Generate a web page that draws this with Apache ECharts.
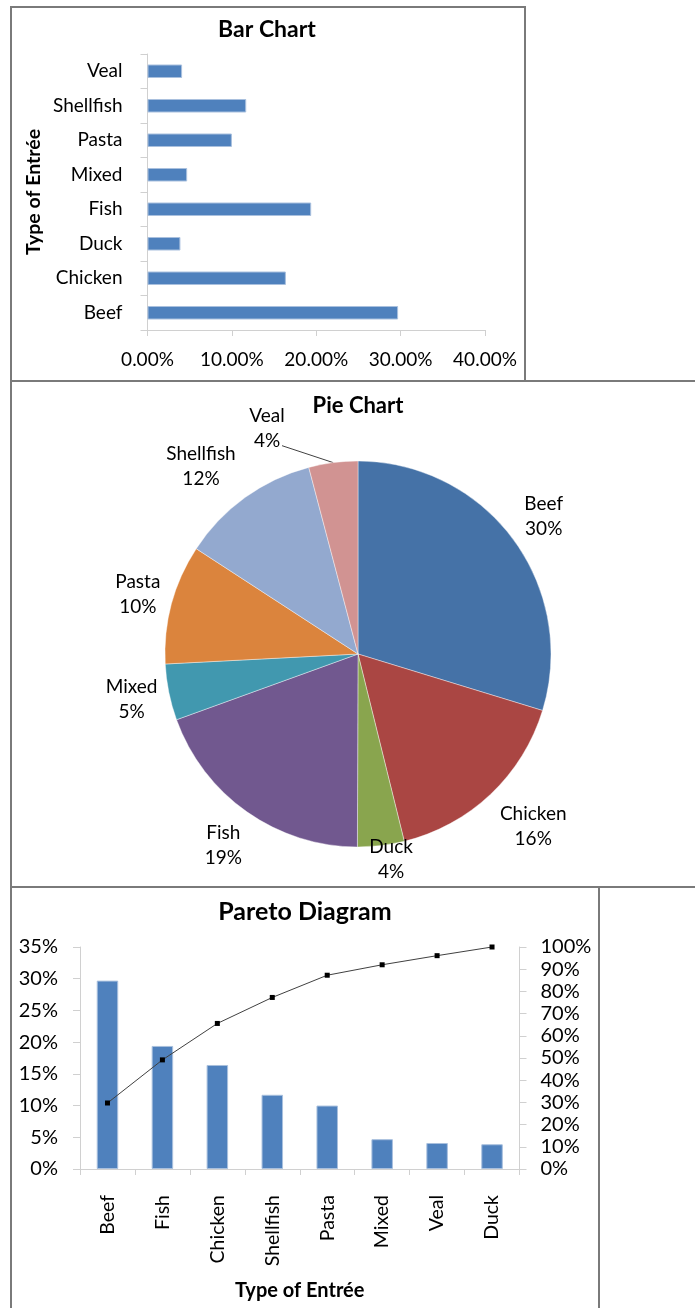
<!DOCTYPE html>
<html><head><meta charset="utf-8">
<script src="https://cdn.jsdelivr.net/npm/echarts@6/dist/echarts.min.js"></script>
<style>html,body{margin:0;padding:0;background:#fff}#c{width:695px;height:1308px}</style>
</head><body><div id="c"></div>
<script>
// ---- data ----
const categories = ['Beef','Chicken','Duck','Fish','Mixed','Pasta','Shellfish','Veal'];
const shares = [0.297,0.164,0.039,0.194,0.047,0.100,0.117,0.041];
const barTicks = [0,0.1,0.2,0.3,0.4];
const paretoLeftTicks = [0,0.05,0.10,0.15,0.20,0.25,0.30,0.35];
const paretoRightTicks = [0,0.1,0.2,0.3,0.4,0.5,0.6,0.7,0.8,0.9,1.0];
const pieColors = ['#4572A7','#AA4643','#89A54E','#71588F','#4198AF','#DB843D','#93A9CF','#D19392'];

// ---- layout config (not data) ----
const FONT = 'Lato, "Open Sans", sans-serif';
const PIE_CX = 358, PIE_CY = 654, PIE_R = 193;
const labelRadius = [231, 246, 208, 234, 231, 228, 245, 243];
const labelAngleShift = [0, -2, -2.3, 0, 0, 0, -4, -14.6];

const total = shares.reduce((a,b)=>a+b,0);
const order = categories.map((c,i)=>i).sort((a,b)=>shares[b]-shares[a]);
const paretoCats = order.map(i=>categories[i]);
const paretoVals = order.map(i=>shares[i]);
let run = 0;
const paretoCum = paretoVals.map(v=>{run+=v;return run/total;});

const chart = echarts.init(document.getElementById('c'), null, {renderer:'canvas'});
const axisGray = '#d0d0d0';
const barBlue = '#4F81BD';

chart.setOption({
  animation:false,
  graphic:[
    {type:'rect',shape:{x:11,y:7,width:514,height:374},style:{fill:'none',stroke:'#7a7a7a',lineWidth:2},z:100},
    {type:'rect',shape:{x:11,y:381,width:700,height:506},style:{fill:'none',stroke:'#7a7a7a',lineWidth:2},z:100},
    {type:'rect',shape:{x:11,y:887,width:588,height:440},style:{fill:'none',stroke:'#7a7a7a',lineWidth:2},z:100},
    {type:'text',x:267,y:30,style:{text:'Bar Chart',font:'bold 23px '+FONT,fill:'#000',align:'center',verticalAlign:'middle'}},
    {type:'text',x:358,y:406,style:{text:'Pie Chart',font:'bold 22px '+FONT,fill:'#000',align:'center',verticalAlign:'middle'}},
    {type:'text',x:305,y:912,style:{text:'Pareto Diagram',font:'bold 25px '+FONT,fill:'#000',align:'center',verticalAlign:'middle'}}
  ],
  grid:[
    {left:147.5, top:54, width:337.5, height:276},
    {left:80, top:947, width:439.5, height:222}
  ],
  xAxis:[
    {gridIndex:0,type:'value',min:0,max:0.4,interval:0.1,
     axisLine:{show:true,lineStyle:{color:axisGray}},
     axisTick:{show:true,length:6,lineStyle:{color:axisGray}},
     splitLine:{show:false},
     axisLabel:{margin:20,fontSize:19,fontFamily:FONT,color:'#000',formatter:v=>(v*100).toFixed(2)+'%'}},
    {gridIndex:1,type:'category',data:paretoCats,
     axisLine:{show:true,lineStyle:{color:axisGray}},
     axisTick:{show:true,length:6,alignWithLabel:false,lineStyle:{color:axisGray}},
     axisLabel:{rotate:90,margin:26,fontSize:19.5,fontFamily:FONT,color:'#000',interval:0},
     name:'Type of Entrée',nameLocation:'middle',nameGap:112,
     nameTextStyle:{fontSize:20,fontWeight:'bold',fontFamily:FONT,color:'#000'}}
  ],
  yAxis:[
    {gridIndex:0,type:'category',data:categories,
     axisLine:{show:true,lineStyle:{color:axisGray}},
     axisTick:{show:true,length:7,lineStyle:{color:axisGray}},
     axisLabel:{margin:25,fontSize:19,fontFamily:FONT,color:'#000'},
     name:'Type of Entrée',nameLocation:'middle',nameRotate:90,nameGap:104,
     nameTextStyle:{fontSize:19.5,fontWeight:'bold',fontFamily:FONT,color:'#000'}},
    {gridIndex:1,type:'value',min:0,max:0.35,interval:0.05,
     axisLine:{show:true,lineStyle:{color:axisGray}},
     axisTick:{show:true,length:7,lineStyle:{color:axisGray}},
     splitLine:{show:false},
     axisLabel:{margin:22,fontSize:20,fontFamily:FONT,color:'#000',formatter:v=>Math.round(v*100)+'%'}},
    {gridIndex:1,type:'value',min:0,max:1,interval:0.1,position:'right',
     axisLine:{show:true,lineStyle:{color:axisGray}},
     axisTick:{show:true,length:7,lineStyle:{color:axisGray}},
     splitLine:{show:false},
     axisLabel:{margin:21,fontSize:20,fontFamily:FONT,color:'#000',formatter:v=>Math.round(v*100)+'%'}}
  ],
  series:[
    {type:'bar',xAxisIndex:0,yAxisIndex:0,data:shares,barWidth:13.5,
     itemStyle:{color:barBlue,borderColor:'#a9c0de',borderWidth:1}},
    {type:'pie',center:[PIE_CX,PIE_CY],radius:PIE_R,startAngle:90,clockwise:true,
     avoidLabelOverlap:false,
     data:categories.map((c,i)=>({name:c,value:shares[i],itemStyle:{color:pieColors[i]},
        labelLine:{show:i===7,lineStyle:{color:'#404040',width:1}}})),
     itemStyle:{borderColor:'rgba(255,255,255,0.4)',borderWidth:1},
     label:{show:true,position:'outside',fontSize:19,fontFamily:FONT,color:'#000',lineHeight:25,align:'center',
        formatter:p=>p.name+'\n'+Math.round(p.percent)+'%'},
     labelLine:{show:false},
     labelLayout:function(p){
       const i=p.dataIndex;
       let before=0; for(let k=0;k<i;k++) before+=shares[k];
       const midFrac=(before+shares[i]/2)/total;
       const a=(midFrac*360+labelAngleShift[i])*Math.PI/180;
       const x=PIE_CX+labelRadius[i]*Math.sin(a);
       const y=PIE_CY-labelRadius[i]*Math.cos(a);
       const res={x:x,y:y,align:'center',verticalAlign:'middle'};
       if(i===7){
         const m=midFrac*2*Math.PI;
         const ex=PIE_CX+PIE_R*Math.sin(m), ey=PIE_CY-PIE_R*Math.cos(m);
         res.labelLinePoints=[[x+15,y+17],[x+15,y+17],[ex,ey]];
       }
       return res;
     }},
    {type:'bar',xAxisIndex:1,yAxisIndex:1,data:paretoVals,barWidth:21.5,
     itemStyle:{color:barBlue,borderColor:'#a9c0de',borderWidth:1}},
    {type:'line',xAxisIndex:1,yAxisIndex:2,data:paretoCum,symbol:'rect',symbolSize:5,
     itemStyle:{color:'#000'},lineStyle:{color:'#404040',width:1}}
  ]
});
</script></body></html>
